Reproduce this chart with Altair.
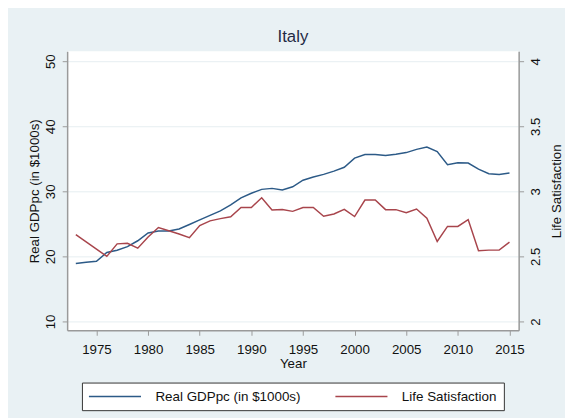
import altair as alt
import pandas as pd

# ---- data ----
gdp_years = list(range(1973, 2016))
gdp_values = [18.9, 19.1, 19.25, 20.6, 20.95, 21.5, 22.4, 23.6, 23.9, 23.9,
              24.2, 24.9, 25.6, 26.3, 27.0, 27.9, 29.0, 29.7, 30.3, 30.45,
              30.2, 30.7, 31.7, 32.2, 32.6, 33.1, 33.7, 35.1, 35.65, 35.65,
              35.5, 35.7, 35.95, 36.45, 36.8, 36.1, 34.1, 34.4, 34.35, 33.4,
              32.7, 32.6, 32.8]

ls_years = [1973] + list(range(1976, 2016))
ls_values = [2.667, 2.50, 2.596, 2.60, 2.563, 2.649, 2.722, 2.697, 2.672, 2.644,
             2.737, 2.773, 2.79, 2.805, 2.876, 2.876, 2.95, 2.856, 2.861, 2.846,
             2.876, 2.876, 2.808, 2.826, 2.861, 2.806, 2.933, 2.933, 2.859, 2.859,
             2.836, 2.864, 2.793, 2.614, 2.73, 2.73, 2.783, 2.543, 2.548, 2.548,
             2.609]

series_names = ["Real GDPpc (in $1000s)", "Life Satisfaction"]
series_colors = ["#2c5a87", "#a8454c"]
x_ticks = list(range(1975, 2016, 5))
gdp_ticks = [10, 20, 30, 40, 50]
ls_ticks = [2, 2.5, 3, 3.5, 4]

gdp_df = pd.DataFrame({"year": gdp_years, "value": gdp_values, "series": series_names[0]})
ls_df = pd.DataFrame({"year": ls_years, "value": ls_values, "series": series_names[1]})

FONT = "Liberation Sans"
AX = "#9a9a9a"

color = alt.Color(
    "series:N",
    scale=alt.Scale(domain=series_names, range=series_colors),
    legend=alt.Legend(
        title=None, orient="none", legendX=15, legendY=336,
        direction="horizontal", fillColor="white", strokeColor="#333",
        padding=7, symbolType="M-4.4,0H4.4", symbolSize=144, symbolStrokeWidth=1.5,
        symbolOffset=19.5,
        labelFontSize=13.6, labelFont=FONT, labelColor="#111",
        columnPadding=32, labelOffset=34,
    ),
)

x = alt.X(
    "year:Q",
    scale=alt.Scale(domain=[1972.16, 2015.89], nice=False, zero=False),
    axis=alt.Axis(title="Year", values=x_ticks, format="d", grid=False,
                  labelPadding=8, titlePadding=0),
)

gdp_line = alt.Chart(gdp_df).mark_line(strokeWidth=1.5).encode(
    x=x,
    y=alt.Y(
        "value:Q",
        scale=alt.Scale(domain=[8.636, 51.515], nice=False, zero=False),
        axis=alt.Axis(title="Real GDPpc (in $1000s)", values=gdp_ticks, grid=True,
                      labelAngle=270, labelAlign="center", labelBaseline="bottom",
                      labelPadding=5, titlePadding=2),
    ),
    color=color,
)

ls_line = alt.Chart(ls_df).mark_line(strokeWidth=1.5).encode(
    x=x,
    y=alt.Y(
        "value:Q",
        scale=alt.Scale(domain=[1.9318, 4.0758], nice=False, zero=False),
        axis=alt.Axis(title="Life Satisfaction", orient="right", values=ls_ticks,
                      format="~g", grid=False, labelAngle=270, labelAlign="center",
                      labelBaseline="middle", labelPadding=12, titleAngle=270,
                      titleX=38, titleY=141.5, titleAlign="center",
                      titleBaseline="middle"),
    ),
    color=color,
)

chart = alt.layer(gdp_line, ls_line).resolve_scale(y="independent").properties(
    width=458, height=283,
    title=alt.Title("Italy", fontSize=17, font=FONT, fontWeight="normal",
                    color="#1f2a44", anchor="middle", offset=5),
    autosize=alt.AutoSizeParams(type="none"),
    padding={"left": 60, "top": 41, "right": 47, "bottom": 86},
    background="#e9f1f4",
).configure_view(
    fill="white", stroke=None,
).configure_axis(
    labelFont=FONT, titleFont=FONT, labelFontSize=13.5, titleFontSize=13.5,
    labelColor="#111", titleColor="#111", titleFontWeight="normal",
    domainColor=AX, domainWidth=1.5, tickColor=AX, tickSize=5, tickWidth=1,
    gridColor="#e6eef1", gridWidth=1,
).configure_legend(
    strokeWidth=1,
)

chart.save("out.html", embed_options={"renderer": "svg", "actions": False})
